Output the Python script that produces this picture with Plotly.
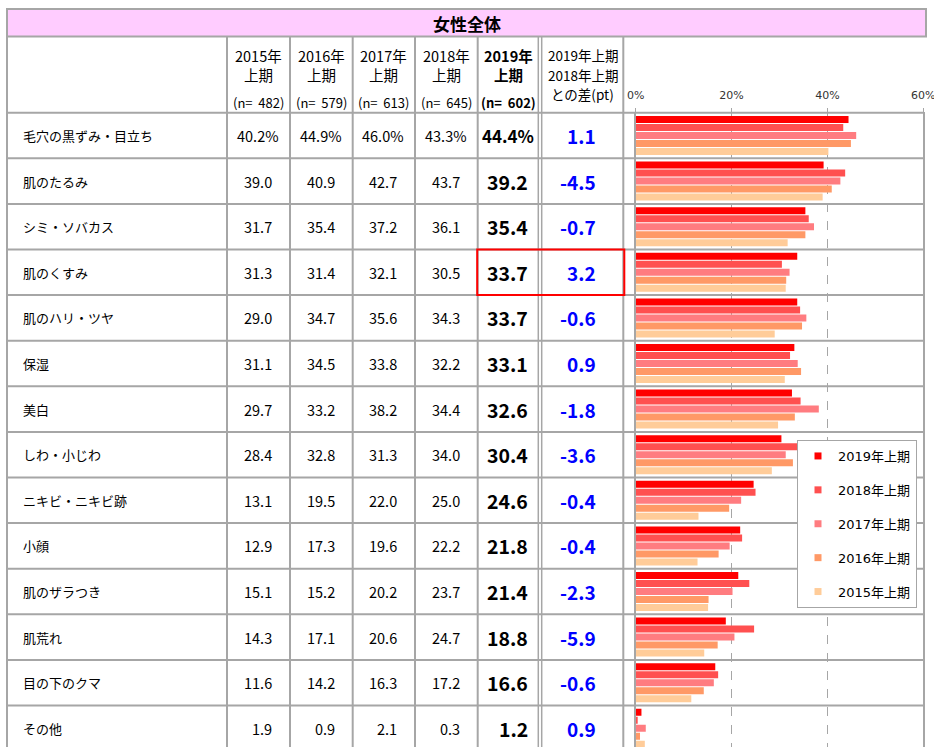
import plotly.graph_objects as go

# ---------------- data ----------------
categories = ["毛穴の黒ずみ・目立ち", "肌のたるみ", "シミ・ソバカス", "肌のくすみ", "肌のハリ・ツヤ",
              "保湿", "美白", "しわ・小じわ", "ニキビ・ニキビ跡", "小顔", "肌のザラつき",
              "肌荒れ", "目の下のクマ", "その他"]
v2015 = [40.2, 39.0, 31.7, 31.3, 29.0, 31.1, 29.7, 28.4, 13.1, 12.9, 15.1, 14.3, 11.6, 1.9]
v2016 = [44.9, 40.9, 35.4, 31.4, 34.7, 34.5, 33.2, 32.8, 19.5, 17.3, 15.2, 17.1, 14.2, 0.9]
v2017 = [46.0, 42.7, 37.2, 32.1, 35.6, 33.8, 38.2, 31.3, 22.0, 19.6, 20.2, 20.6, 16.3, 2.1]
v2018 = [43.3, 43.7, 36.1, 30.5, 34.3, 32.2, 34.4, 34.0, 25.0, 22.2, 23.7, 24.7, 17.2, 0.3]
v2019 = [44.4, 39.2, 35.4, 33.7, 33.7, 33.1, 32.6, 30.4, 24.6, 21.8, 21.4, 18.8, 16.6, 1.2]
diff_pt = [1.1, -4.5, -0.7, 3.2, -0.6, 0.9, -1.8, -3.6, -0.4, -0.4, -2.3, -5.9, -0.6, 0.9]
years = ["2015年", "2016年", "2017年", "2018年", "2019年"]
n_sizes = [482, 579, 613, 645, 602]
series_names = ["2019年上期", "2018年上期", "2017年上期", "2016年上期", "2015年上期"]
title_text = "女性全体"
highlight_category = "肌のくすみ"
diff_header = ["2019年上期", "2018年上期", "との差(pt)"]
x_ticks = [0, 20, 40, 60]

# ---------------- layout constants (page pixels) ----------------
W, H = 934, 747
def px(x): return x / W
def py(y): return 1 - y / H

GRAY = "#A6A6A6"
FONT = "Noto Sans CJK JP"
colors = ["#FF0000", "#FF5050", "#FF7C80", "#FF9966", "#FFCC99"]
series_values = [v2019, v2018, v2017, v2016, v2015]

col_edges = [227, 290, 352.7, 415, 477.7, 539]   # year columns
diff_col = (541.7, 623.3)
table_left, header_top, header_bottom = 7, 36.5, 112.7
row_h = 45.6
plot_left, plot_right = 635.7, 923.3
y_bottom_index = (H - header_bottom) / row_h - 0.5

fig = go.Figure()

# bars
for name, vals, c in zip(series_names, series_values, colors):
    fig.add_trace(go.Bar(
        y=categories, x=vals, orientation="h", name=name,
        marker=dict(color=c, line=dict(width=0)),
        legendgroup=name, showlegend=False, hoverinfo="x+y+name"))
# legend proxies (small square markers)
for name, c in zip(series_names, colors):
    fig.add_trace(go.Scatter(
        x=[None], y=[None], mode="markers", name=name, legendgroup=name,
        marker=dict(symbol="square", size=7, color=c), showlegend=True))

shapes = []
ann = []

# title band
shapes.append(dict(type="rect", xref="paper", yref="paper",
                   x0=px(table_left), x1=px(926), y0=py(9), y1=py(header_top),
                   fillcolor="#FFCCFF", line=dict(color=GRAY, width=2), layer="below"))
ann.append(dict(xref="paper", yref="paper", x=px(466.5), y=py(23), text="<b>" + title_text + "</b>",
                showarrow=False, font=dict(family=FONT, size=17, color="#000"),
                xanchor="center", yanchor="middle"))

# header bottom line
shapes.append(dict(type="line", xref="paper", yref="paper", x0=px(table_left), x1=px(924),
                   y0=py(header_bottom), y1=py(header_bottom), line=dict(color=GRAY, width=2)))
# row separators
for i in range(len(categories) - 1):
    shapes.append(dict(type="line", xref="paper", yref="y", x0=px(table_left), x1=px(924),
                       y0=i + 0.5, y1=i + 0.5, line=dict(color=GRAY, width=2)))
# vertical lines
for xv in [table_left] + col_edges[:-1] + [diff_col[1]]:
    shapes.append(dict(type="line", xref="paper", yref="paper", x0=px(xv), x1=px(xv),
                       y0=py(header_top), y1=0, line=dict(color=GRAY, width=2)))
for xv in [538.3, 541.7]:
    shapes.append(dict(type="line", xref="paper", yref="paper", x0=px(xv), x1=px(xv),
                       y0=py(header_top), y1=0, line=dict(color=GRAY, width=1.5)))

# highlight box
hi = categories.index(highlight_category)
shapes.append(dict(type="rect", xref="paper", yref="y", x0=px(col_edges[4] - 0.5), x1=px(diff_col[1] + 1),
                   y0=hi - 0.5, y1=hi + 0.5, line=dict(color="#FF0000", width=2)))

# header text
for j, (yr, n) in enumerate(zip(years, n_sizes)):
    cx = (col_edges[j] + col_edges[j + 1]) / 2
    bold = j == 4
    b0, b1 = ("<b>", "</b>") if bold else ("", "")
    ann.append(dict(xref="paper", yref="paper", x=px(cx), y=py(55), text=b0 + yr + b1, showarrow=False,
                    font=dict(family=FONT, size=14.5, color="#000"), xanchor="center", yanchor="middle"))
    ann.append(dict(xref="paper", yref="paper", x=px(cx), y=py(74), text=b0 + "上期" + b1, showarrow=False,
                    font=dict(family=FONT, size=14.5, color="#000"), xanchor="center", yanchor="middle"))
    ann.append(dict(xref="paper", yref="paper", x=px(cx), y=py(102),
                    text=b0 + "(n=\u00a0\u00a0" + str(n) + ")" + b1, showarrow=False,
                    font=dict(family=FONT, size=13, color="#000"), xanchor="center", yanchor="middle"))
dcx = (diff_col[0] + diff_col[1]) / 2
for t, yy in zip(diff_header, [55, 75, 94]):
    ann.append(dict(xref="paper", yref="paper", x=px(dcx), y=py(yy), text=t, showarrow=False,
                    font=dict(family=FONT, size=13.5, color="#000"), xanchor="center", yanchor="middle"))

# body text
year_vals = [v2015, v2016, v2017, v2018]
for i, cat in enumerate(categories):
    ann.append(dict(xref="paper", yref="y", x=px(20.5), y=i, text=cat, showarrow=False,
                    font=dict(family=FONT, size=13, color="#000"), xanchor="left", yanchor="middle"))
    pct = "%" if i == 0 else ""
    for j, vals in enumerate(year_vals):
        right = col_edges[j + 1] - (9 if i == 0 else 16)
        ann.append(dict(xref="paper", yref="y", x=px(right), y=i, text=f"{vals[i]:.1f}" + pct,
                        showarrow=False, font=dict(family=FONT, size=14.5, color="#000"),
                        xanchor="right", yanchor="middle"))
    right = col_edges[5] - (3 if i == 0 else 9)
    ann.append(dict(xref="paper", yref="y", x=px(right), y=i, text=f"<b>{v2019[i]:.1f}{pct}</b>",
                    showarrow=False, font=dict(family=FONT, size=17 if i == 0 else 19.5, color="#000"),
                    xanchor="right", yanchor="middle"))
    ann.append(dict(xref="paper", yref="y", x=px(598), y=i, text=f"<b>{diff_pt[i]:.1f}</b>",
                    showarrow=False, font=dict(family=FONT, size=19, color="#0000FF"),
                    xanchor="right", yanchor="middle"))

fig.update_layout(
    width=W, height=H, margin=dict(l=0, r=0, t=0, b=0, autoexpand=False),
    paper_bgcolor="white", plot_bgcolor="white",
    barmode="group", bargap=0.123, bargroupgap=0.125,
    shapes=shapes, annotations=ann,
    font=dict(family=FONT),
    legend=dict(x=px(797), y=py(440), xanchor="left", yanchor="top",
                bordercolor=GRAY, borderwidth=1, bgcolor="white",
                font=dict(family="DejaVu Sans, Noto Sans CJK JP", size=13, color="#000"),
                tracegroupgap=14, itemwidth=30),
    xaxis=dict(domain=[px(plot_left), px(plot_right)], range=[0, 60], side="top", automargin=False,
               tickmode="array", tickvals=x_ticks, ticktext=[f"{v}%" for v in x_ticks],
               showline=True, linecolor=GRAY, linewidth=1,
               ticks="outside", ticklen=4, tickcolor=GRAY, ticklabeloverflow="allow",
               showgrid=True, gridcolor=GRAY, griddash="dash", gridwidth=1, zeroline=False,
               tickfont=dict(family="DejaVu Sans", size=11, color="#333"), ticklabelstandoff=4),
    yaxis=dict(domain=[0, py(header_bottom)], type="category", categoryorder="array",
               categoryarray=categories, range=[y_bottom_index, -0.5], automargin=False,
               showticklabels=False, showline=True, mirror=True, linecolor=GRAY, linewidth=1.5,
               ticks="inside", tickson="boundaries", ticklen=4, tickcolor=GRAY, showgrid=False),
)

# page without default body margin or scrollbars so the figure sits at the window's origin
page_css = ("document.documentElement.style.margin='0';document.documentElement.style.overflow='hidden';"
            "document.body.style.margin='0';document.body.style.overflow='hidden';")
fig.write_html("out.html", post_script=page_css, config={"displayModeBar": False})
